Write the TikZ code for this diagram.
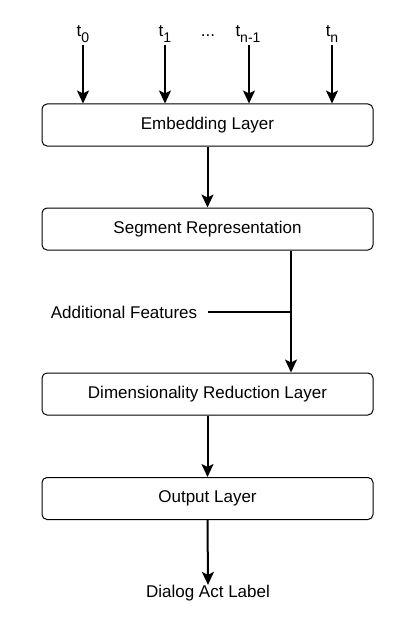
\documentclass[tikz,border=0pt]{standalone}
\usepackage{fontspec}
\setmainfont{Liberation Sans}
\usetikzlibrary{arrows.meta}
\newcommand{\tsub}[1]{\raisebox{-6pt}{\fontsize{14}{16}\selectfont #1}}
\begin{document}
\begin{tikzpicture}[x=1pt,y=-1pt,
  layer/.style={draw, rounded corners=5pt, line width=1pt, minimum width=331pt, minimum height=42pt, inner sep=0pt, font=\fontsize{17}{20}\selectfont},
  lbl/.style={inner sep=0pt, font=\fontsize{17}{20}\selectfont},
  arr/.style={line width=2pt, -{Stealth[length=13pt,width=12pt,inset=3pt]}},
  plain/.style={line width=2pt}]
\useasboundingbox (0,0) rectangle (415,623);
\node[layer] (emb) at (207.5,125) {Embedding Layer};
\node[layer] (seg) at (207.5,229) {Segment Representation};
\node[layer] (dim) at (207.5,394) {Dimensionality Reduction Layer};
\node[layer] (out) at (207.5,498.5) {Output Layer};
\node[lbl, anchor=base] (t0) at (83,37) {t\tsub{0}};
\node[lbl, anchor=base] (t1) at (165,37) {t\tsub{1}};
\node[lbl, anchor=base] (dots) at (208,37) {...};
\node[lbl, anchor=base] (tn1) at (248,37) {t\tsub{n-1}};
\node[lbl, anchor=base] (tn) at (332,37) {t\tsub{n}};
\node[lbl] (feat) at (124,312) {Additional Features};
\node[lbl] (dal) at (208,593) {Dialog Act Label};
\coordinate (c0) at (83,45);
\coordinate (c1) at (165,45);
\coordinate (c2) at (249,45);
\coordinate (c3) at (332,45);
\coordinate (j) at (291,312);
\coordinate (fe) at (208,312);
\draw[arr] (c0) -- (c0 |- emb.north);
\draw[arr] (c1) -- (c1 |- emb.north);
\draw[arr] (c2) -- (c2 |- emb.north);
\draw[arr] (c3) -- (c3 |- emb.north);
\draw[arr] (emb.south) -- (seg.north);
\draw[arr] (j |- seg.south) -- (j |- dim.north);
\draw[plain] (fe) -- (j);
\draw[arr] (dim.south) -- (out.north);
\draw[arr] (out.south) -- (dal.north);
\end{tikzpicture}
\end{document}
